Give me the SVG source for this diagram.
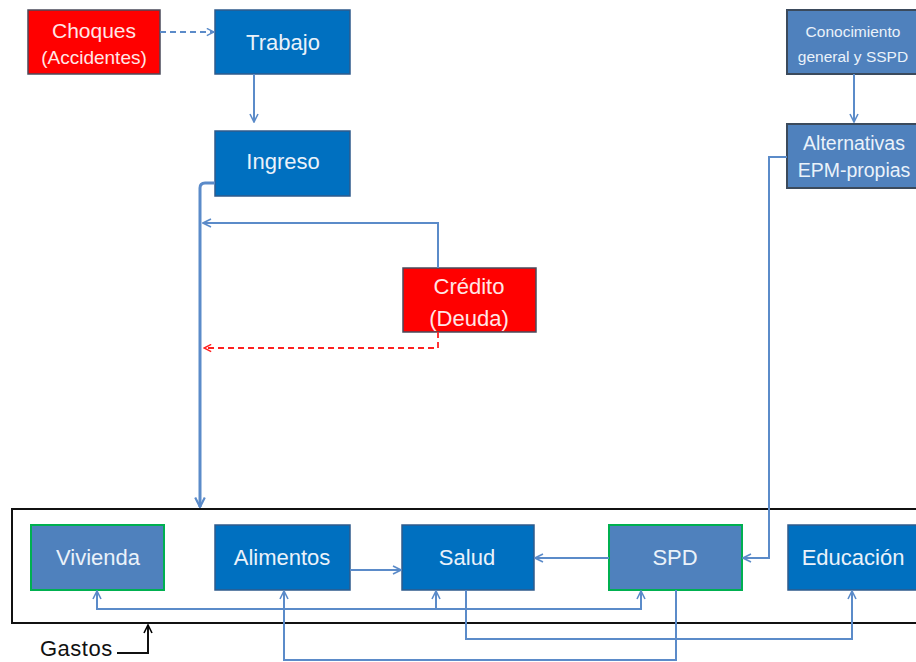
<svg xmlns="http://www.w3.org/2000/svg" width="916" height="662" viewBox="0 0 916 662">
<defs>
<style>
.blue{fill:#0070C0;stroke:#2F5B8C;stroke-width:1.5}
.lblue{fill:#4F81BD;stroke:#00B050;stroke-width:2}
.gblue{fill:#4F81BD;stroke:#3B4A5C;stroke-width:2}
.red{fill:#FF0000;stroke:#4A4A5A;stroke-width:1.5}
.t{font-family:"Liberation Sans",Arial,sans-serif;font-size:22px;fill:#EAF2FA;text-anchor:middle}
.ts{font-family:"Liberation Sans",Arial,sans-serif;font-size:15.5px;fill:#EAF2FA;text-anchor:middle}
.tr{font-family:"Liberation Sans",Arial,sans-serif;font-size:22px;fill:#FFE6E6;text-anchor:middle}
.c{fill:none;stroke:#5B8BC9;stroke-width:2}
.cr{fill:none;stroke:#FF2020;stroke-width:1.8;stroke-dasharray:6 4}
.cd{fill:none;stroke:#5B8BC9;stroke-width:1.8;stroke-dasharray:6 4}
</style>
<marker id="a" viewBox="0 0 10 10" refX="9" refY="5" markerWidth="5" markerHeight="5" orient="auto" markerUnits="strokeWidth"><path d="M1,1 L9,5 L1,9" fill="none" stroke="#5B8BC9" stroke-width="1.6"/></marker>
<marker id="ar" viewBox="0 0 10 10" refX="9" refY="5" markerWidth="5" markerHeight="5" orient="auto" markerUnits="strokeWidth"><path d="M1,1 L9,5 L1,9" fill="none" stroke="#FF2020" stroke-width="1.6"/></marker>
<marker id="ak" viewBox="0 0 10 10" refX="9" refY="5" markerWidth="5" markerHeight="5" orient="auto" markerUnits="strokeWidth"><path d="M1,1 L9,5 L1,9" fill="none" stroke="#000" stroke-width="1.6"/></marker>
<marker id="ab" viewBox="0 0 10 10" refX="9" refY="5" markerWidth="4" markerHeight="4" orient="auto" markerUnits="strokeWidth"><path d="M1,1 L9,5 L1,9" fill="none" stroke="#5B8BC9" stroke-width="1.8"/></marker>
</defs>

<g id="container">
<rect x="12" y="509" width="910" height="114" fill="none" stroke="#111" stroke-width="2"/>
</g>

<g id="choques"><rect class="red" x="28" y="10" width="132" height="64"/><text class="tr" x="94" y="38" style="font-size:21px">Choques</text><text class="tr" x="94" y="64" style="font-size:19px">(Accidentes)</text></g>
<g id="trabajo"><rect class="blue" x="215" y="10" width="135" height="64"/><text class="t" x="283" y="50">Trabajo</text></g>
<g id="ingreso"><rect class="blue" x="215" y="131" width="135" height="65"/><text class="t" x="283" y="169">Ingreso</text></g>
<g id="conocimiento"><rect class="gblue" x="787" y="10" width="140" height="64"/><text class="ts" x="853" y="37">Conocimiento</text><text class="ts" x="853" y="62">general  y SSPD</text></g>
<g id="alternativas"><rect class="gblue" x="787" y="124" width="140" height="64"/><text class="t" x="854" y="150" style="font-size:19.5px">Alternativas</text><text class="t" x="854" y="177" style="font-size:19.5px">EPM-propias</text></g>
<g id="credito"><rect class="red" x="403" y="268" width="133" height="64"/><text class="tr" x="469" y="294">Crédito</text><text class="tr" x="469" y="326">(Deuda)</text></g>

<g id="vivienda"><rect class="lblue" x="31" y="525" width="133" height="65"/><text class="t" x="98" y="565">Vivienda</text></g>
<g id="alimentos"><rect class="blue" x="215" y="525" width="135" height="65"/><text class="t" x="282" y="565">Alimentos</text></g>
<g id="salud"><rect class="blue" x="402" y="525" width="132" height="65"/><text class="t" x="467" y="565">Salud</text></g>
<g id="spd"><rect class="lblue" x="609" y="525" width="133" height="65"/><text class="t" x="675" y="565">SPD</text></g>
<g id="educacion"><rect class="blue" x="788" y="525" width="140" height="65"/><text class="t" x="853" y="565">Educación</text></g>

<g id="gastos"><text x="40" y="656" style="font-family:'Liberation Sans',Arial,sans-serif;font-size:22px;letter-spacing:0.5px;fill:#111">Gastos</text></g>

<g id="connectors">
<path class="cd" d="M160,32 H214" marker-end="url(#a)"/>
<path class="c" d="M254,74 V122" marker-end="url(#a)"/>
<path class="c" d="M854,74 V122" marker-end="url(#a)"/>
<path d="M215,183 H205 Q200,183 200,188 V507" fill="none" stroke="#5B8BC9" stroke-width="3" marker-end="url(#ab)"/>
<path class="c" d="M438,268 V223 H203" marker-end="url(#a)"/>
<path class="cr" d="M438,332 V348 H204" marker-end="url(#ar)"/>
<path class="c" d="M787,157 H769 V558 H743" marker-end="url(#a)"/>
<path class="c" d="M609,558 H535" marker-end="url(#a)"/>
<path class="c" d="M350,570 H401" marker-end="url(#a)"/>
<path class="c" d="M436,609 H97 V591" marker-end="url(#a)"/>
<path class="c" d="M436,609 V591" marker-end="url(#a)"/>
<path class="c" d="M436,609 H641 V591" marker-end="url(#a)"/>
<path class="c" d="M466,590 V639 H852 V591" marker-end="url(#a)"/>
<path class="c" d="M676,590 V660 H284 V591" marker-end="url(#a)"/>
<path d="M117,653 H148 V625" fill="none" stroke="#111" stroke-width="2" marker-end="url(#ak)"/>
</g>
</svg>
